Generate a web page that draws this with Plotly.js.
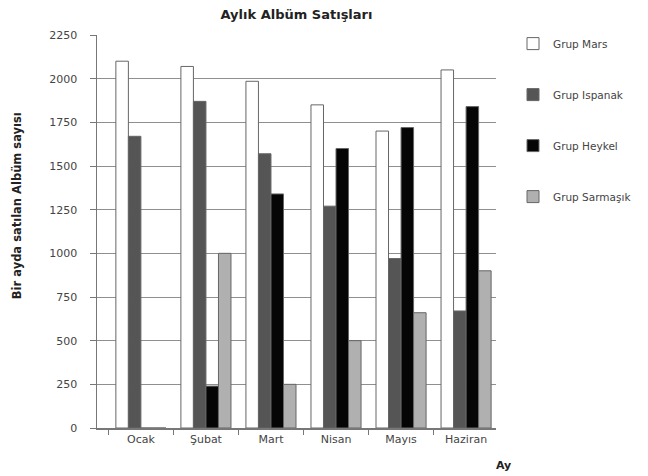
<!DOCTYPE html>
<html>
<head>
<meta charset="utf-8">
<script src="https://cdn.plot.ly/plotly-3.0.1.min.js"></script>
<style>html,body{margin:0;padding:0;background:#fff;}#chart{width:648px;height:476px;}</style>
</head>
<body>
<div id="chart"></div>
<script>
const months = ["Ocak", "Şubat", "Mart", "Nisan", "Mayıs", "Haziran"];
const seriesNames = ["Grup Mars", "Grup Ispanak", "Grup Heykel", "Grup Sarmaşık"];
const grupMars = [2100, 2070, 1985, 1850, 1700, 2050];
const grupIspanak = [1670, 1870, 1570, 1270, 970, 670];
const grupHeykel = [0, 240, 1340, 1600, 1720, 1840];
const grupSarmasik = [0, 1000, 250, 500, 660, 900];
const yTicks = [0, 250, 500, 750, 1000, 1250, 1500, 1750, 2000, 2250];

const seriesValues = [grupMars, grupIspanak, grupHeykel, grupSarmasik];
const fills = ["#ffffff", "#555555", "#050505", "#b0b0b0"];

const traces = seriesValues.map((vals, i) => ({
  type: "bar",
  name: seriesNames[i],
  x: months,
  y: vals,
  legendgroup: "g" + i,
  marker: { color: fills[i], line: { color: "#666666", width: 1 } },
  hoverinfo: "x+y+name"
}));

const FONT = "DejaVu Sans, Verdana, sans-serif";

const layout = {
  width: 648,
  height: 476,
  paper_bgcolor: "#ffffff",
  plot_bgcolor: "#ffffff",
  margin: { l: 97, r: 151, t: 35, b: 48 },
  barmode: "group",
  bargap: 0.23,
  bargroupgap: 0,
  title: {
    text: "<b>Aylık Albüm Satışları</b>",
    font: { family: FONT, size: 13, color: "#222" },
    x: 0.5, xref: "paper", xanchor: "center",
    y: 0.97, yref: "container", yanchor: "middle"
  },
  font: { family: FONT, size: 11, color: "#444" },
  xaxis: {
    type: "category",
    range: [-0.675, 5.46],
    showline: true, linecolor: "#777", linewidth: 1.5,
    ticks: "outside", tickson: "boundaries", ticklen: 5, tickcolor: "#777",
    tickfont: { family: FONT, size: 11, color: "#444" },
    showgrid: false
  },
  yaxis: {
    range: [0, 2250],
    tickvals: yTicks,
    ticktext: yTicks.map(String),
    showline: true, linecolor: "#777", linewidth: 1.5,
    ticks: "outside", ticklen: 6, tickcolor: "#777",
    ticklabelstandoff: 10,
    showgrid: true, gridcolor: "#8f8f8f", gridwidth: 1,
    zeroline: false,
    tickfont: { family: FONT, size: 11, color: "#444" }
  },
  legend: {
    x: 1.04, xanchor: "left",
    y: 1.015, yanchor: "top",
    traceorder: "grouped",
    tracegroupgap: 32,
    font: { family: FONT, size: 10.5, color: "#444" },
    bgcolor: "rgba(0,0,0,0)"
  },
  annotations: [{
    text: "<b>Ay</b>",
    xref: "paper", yref: "paper",
    x: 1.02, y: -0.095,
    xanchor: "center", yanchor: "middle",
    showarrow: false,
    font: { family: FONT, size: 11, color: "#222" }
  }, {
    text: "<b>Bir ayda satılan Albüm sayısı</b>",
    xref: "paper", yref: "paper",
    x: -0.2, y: 0.565,
    xanchor: "center", yanchor: "middle",
    textangle: -90,
    showarrow: false,
    font: { family: FONT, size: 11.5, color: "#222" }
  }]
};

Plotly.newPlot("chart", traces, layout, { displayModeBar: false, staticPlot: true });
</script>
</body>
</html>
